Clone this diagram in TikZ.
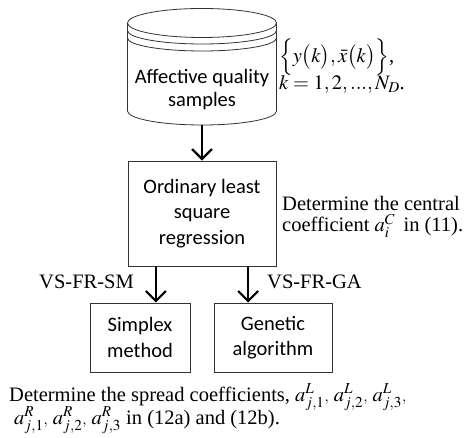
\documentclass[tikz,border=0pt]{standalone}
\usepackage{mathptmx}
\usepackage[no-math]{fontspec}
\setmainfont{Liberation Serif}
\newfontfamily\boxfont{Carlito}
\usetikzlibrary{arrows.meta,calc}

\tikzset{
  procbox/.style={draw=black!80, line width=0.8pt, align=center, inner sep=0pt,
    font=\boxfont\fontsize{20.5}{25.5}\selectfont},
  dbtext/.style={align=center, inner sep=0pt, font=\boxfont\fontsize{20.5}{23}\selectfont},
  note/.style={align=left, inner sep=0pt, font=\fontsize{20.5}{21.5}\selectfont},
  flow/.style={line width=2.2pt, -{Straight Barb[length=10pt,width=20pt]}},
  dbline/.style={draw=black!80, line width=0.8pt}
}
% small comma set after a sub/superscripted coefficient
\newcommand{\smcomma}{{\scriptstyle,}}

\begin{document}
\begin{tikzpicture}[x=1pt,y=1pt]
\useasboundingbox (0,0) rectangle (466,438);

% data store (cylinder with two rims under the lid)
\draw[dbline] (202,415) ellipse [x radius=74.5, y radius=14.5];
\draw[dbline] (127.5,407.5) arc [start angle=180, end angle=360, x radius=74.5, y radius=13.5];
\draw[dbline] (127.5,400) arc [start angle=180, end angle=360, x radius=74.5, y radius=13];
\draw[dbline] (127.5,415) -- (127.5,327)
  arc [start angle=180, end angle=360, x radius=74.5, y radius=14] -- (276.5,415);
\coordinate (dbbot) at (202,313);
\node[dbtext] (db) at (202,348) {Affective quality\\samples};

\node[note, anchor=west] (samples) at (279,372)
  {$\Bigl\{ y\bigl(k\bigr), \bar{x}\bigl(k\bigr)\Bigr\}$,\\[-1pt]
   $k = 1, 2, ..., N_{D}$.};

% regression step
\node[procbox, minimum width=148pt, minimum height=105pt] (reg) at (202,224.5)
  {Ordinary least\\square\\regression};
\node[note, anchor=west] (central) at (282,221)
  {Determine the central\\coefficient $a_{i}^{C}$ \,in (11).};

% optimisers
\node[procbox, minimum width=100pt, minimum height=69pt] (sm) at (140,100.5)
  {Simplex\\method};
\node[procbox, minimum width=118pt, minimum height=69pt] (ga) at (273,100.5)
  {Genetic\\algorithm};

\draw[flow] (dbbot) -- (reg.north);
\coordinate (p1) at ($(reg.south west)!0.19!(reg.south east)$);
\coordinate (p2) at ($(reg.south west)!0.81!(reg.south east)$);
\draw[flow] (p1) -- (p1 |- sm.north);
\draw[flow] (p2) -- (p2 |- ga.north);

\node[note, anchor=east] (vssm) at (134,156) {VS-FR-SM};
\node[note, anchor=west] (vsga) at (267,156) {VS-FR-GA};

\node[note, anchor=west] (spread1) at (9,41)
  {Determine the spread coefficients, $a_{j,1}^{L}\smcomma\ a_{j,2}^{L}\smcomma\ a_{j,3}^{L}\smcomma$};
\node[note, anchor=west] (spread2) at (14,18)
  {$a_{j,1}^{R}\smcomma\ a_{j,2}^{R}\smcomma\ a_{j,3}^{R}$ in (12a) and (12b).};
\end{tikzpicture}
\end{document}
